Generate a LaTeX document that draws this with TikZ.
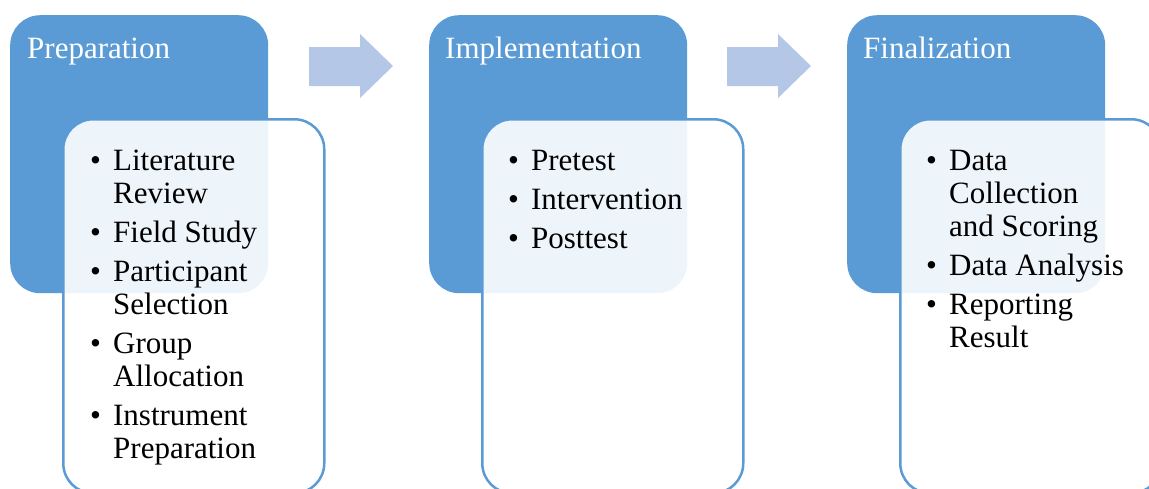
\documentclass[tikz,border=0pt]{standalone}
\usepackage{fontspec}
\setmainfont{Liberation Serif}
\definecolor{stageblue}{HTML}{5B9BD5}
\definecolor{arrowblue}{HTML}{B4C7E7}
% one bullet item: bullet in a 23pt box, wrapped lines hang under the text
\newcommand\bitem{\par\hangindent=23pt\hangafter=1\noindent\makebox[23pt][l]{•}\strut\ignorespaces}
% a bulleted list set in a top-aligned box
\newenvironment{stagelist}{\begin{minipage}[t]{250pt}\raggedright
  \fontsize{31}{33}\selectfont\setlength{\parskip}{6pt}}{\end{minipage}}
\tikzset{
  stage/.style={fill=stageblue, rounded corners=30pt, anchor=north west,
                minimum width=258pt, minimum height=278pt, inner sep=0pt},
  detail/.style={draw=stageblue, line width=2.5pt, fill=white, fill opacity=0.9,
                 rounded corners=30pt, anchor=north west,
                 minimum width=261pt, minimum height=374pt, inner sep=0pt},
  title/.style={anchor=base west, text=white, inner sep=0pt,
                font=\fontsize{31}{33}\selectfont},
  items/.style={anchor=north west, inner sep=0pt},
  blockarrow/.style={fill=arrowblue}
}
\begin{document}
\begin{tikzpicture}[x=1pt,y=-1pt]
\useasboundingbox (0,0) rectangle (1149,488);

% stage headers
\node[stage] (s1) at (10,15) {};
\node[stage] (s2) at (429,15) {};
\node[stage] (s3) at (847,15) {};

% detail panels overlapping the headers
\node[detail] (d1) at (62,118) {};
\node[detail] (d2) at (481,118) {};
\node[detail] (d3) at (899,118) {};

% block arrows between stages
\fill[blockarrow] (309,47) -- (360,47) -- (360,34) -- (393,66) -- (360,98) -- (360,86) -- (309,86) -- cycle;
\fill[blockarrow] (727,47) -- (778,47) -- (778,34) -- (811,66) -- (778,98) -- (778,86) -- (727,86) -- cycle;

% stage titles
\node[title] (t1) at (27,58) {Preparation};
\node[title] (t2) at (445,58) {Implementation};
\node[title] (t3) at (863,58) {Finalization};

% stage contents
\node[items] (l1) at (90,146.9) {\begin{stagelist}
  \bitem Literature\newline Review
  \bitem Field Study
  \bitem Participant\newline Selection
  \bitem Group\newline Allocation
  \bitem Instrument\newline Preparation
\end{stagelist}};
\node[items] (l2) at (508,146.9) {\begin{stagelist}
  \bitem Pretest
  \bitem Intervention
  \bitem Posttest
\end{stagelist}};
\node[items] (l3) at (926,146.9) {\begin{stagelist}
  \bitem Data\newline Collection\newline and Scoring
  \bitem Data Analysis
  \bitem Reporting\newline Result
\end{stagelist}};
\end{tikzpicture}
\end{document}
